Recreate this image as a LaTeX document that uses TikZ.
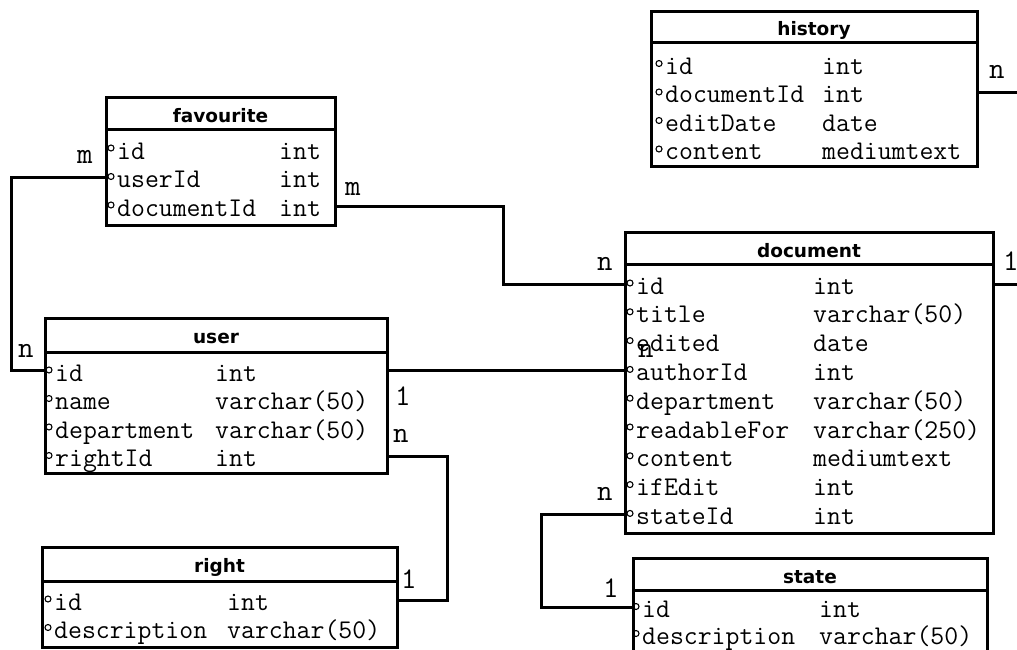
\documentclass[tikz,border=0pt]{standalone}
\usepackage{fontspec}
\newfontfamily\ttlfont{DejaVu Sans}
\tikzset{
  tbl/.style={draw, line width=3pt, inner sep=0pt, outer sep=0pt, anchor=north west},
  hline/.style={line width=3pt},
  ttl/.style={inner sep=0pt, anchor=base, font=\ttlfont\bfseries\fontsize{18.5}{20}\selectfont},
  fld/.style={inner sep=0pt, anchor=base west, text height=20pt, text depth=0pt, font=\ttfamily\fontsize{27}{30}\selectfont},
  lab/.style={inner sep=0pt, anchor=base west, font=\ttfamily\fontsize{30}{32}\selectfont},
  conn/.style={line width=3pt},
  fdot/.style={line width=1.1pt}
}
\newcommand\fldrow[6]{%
  \node[fld] (#1) at (#2,#4) {#5};
  \node[fld] (#1t) at (#3,#4) {#6};
  \draw[fdot] (#2-6,#4-11) circle[radius=3pt];
}
\begin{document}
\begin{tikzpicture}[x=1pt,y=-1pt]
\useasboundingbox[fill=white] (0,0) rectangle (1017,650);

% history
\node[tbl, minimum width=326pt, minimum height=154pt] (history) at (651,12) {};
\draw[hline] ([yshift=-30.5pt]history.north west) -- ([yshift=-30.5pt]history.north east);
\node[ttl] (historyttl) at (814,35.5) {history};
\fldrow{h1}{665}{822}{74.5}{id}{int}
\fldrow{h2}{665}{822}{103}{documentId}{int}
\fldrow{h3}{665}{822}{131.5}{editDate}{date}
\fldrow{h4}{665}{822}{160}{content}{mediumtext}

% favourite
\node[tbl, minimum width=229pt, minimum height=127pt] (favourite) at (106,98) {};
\draw[hline] ([yshift=-32pt]favourite.north west) -- ([yshift=-32pt]favourite.north east);
\node[ttl] (favttl) at (220.5,123) {favourite};
\fldrow{f1}{117}{279}{159}{id}{int}
\fldrow{f2}{117}{279}{187.5}{userId}{int}
\fldrow{f3}{117}{279}{216}{documentId}{int}

% document
\node[tbl, minimum width=368.5pt, minimum height=301pt] (document) at (625,232) {};
\draw[hline] ([yshift=-32pt]document.north west) -- ([yshift=-32pt]document.north east);
\node[ttl] (docttl) at (809,257) {document};
\fldrow{d1}{636}{813}{294}{id}{int}
\fldrow{d2}{636}{813}{322.8}{title}{varchar(50)}
\fldrow{d3}{636}{813}{351.6}{edited}{date}
\fldrow{d4}{636}{813}{380.4}{authorId}{int}
\fldrow{d5}{636}{813}{409.2}{department}{varchar(50)}
\fldrow{d6}{636}{813}{438}{readableFor}{varchar(250)}
\fldrow{d7}{636}{813}{466.8}{content}{mediumtext}
\fldrow{d8}{636}{813}{495.6}{ifEdit}{int}
\fldrow{d9}{636}{813}{524.4}{stateId}{int}

% user
\node[tbl, minimum width=342pt, minimum height=155pt] (user) at (45,318) {};
\draw[hline] ([yshift=-34pt]user.north west) -- ([yshift=-34pt]user.north east);
\node[ttl] (userttl) at (216,343) {user};
\fldrow{u1}{55}{215}{381}{id}{int}
\fldrow{u2}{55}{215}{409.5}{name}{varchar(50)}
\fldrow{u3}{55}{215}{438}{department}{varchar(50)}
\fldrow{u4}{55}{215}{466.5}{rightId}{int}

% right
\node[tbl, minimum width=355pt, minimum height=100pt] (right) at (42,547.5) {};
\draw[hline] ([yshift=-33.5pt]right.north west) -- ([yshift=-33.5pt]right.north east);
\node[ttl] (rightttl) at (219.5,572) {right};
\fldrow{r1}{54}{227}{610}{id}{int}
\fldrow{r2}{54}{227}{638.5}{description}{varchar(50)}

% state
\node[tbl, minimum width=354pt, minimum height=102pt] (state) at (633,558) {};
\draw[hline] ([yshift=-32pt]state.north west) -- ([yshift=-32pt]state.north east);
\node[ttl] (statettl) at (810,583) {state};
\fldrow{s1}{642}{819}{617.5}{id}{int}
\fldrow{s2}{642}{819}{644.5}{description}{varchar(50)}

% connectors
\draw[conn] (favourite.west |- f2) -- ++(-95,0) |- (user.west |- d4);
\draw[conn] (favourite.east |- f3) -- ++(168,0) |- (document.west |- d1);
\draw[conn] (user.east |- d4) -- (document.west |- d4);
\draw[conn] (user.east |- u4) -- ++(60,0) |- (right.east |- r1);
\draw[conn] (document.west |- d9) -- ++(-84,0) |- (state.west |- s1);
\draw[conn] (history.east |- h2) -- ++(60,0) |- (document.east |- d1);

% labels
\node[lab] (lh) at (989,79) {n};
\node[lab] (ld1) at (1003,270) {1};
\node[lab] (lfm1) at (77,164) {m};
\node[lab] (lfm2) at (345,195) {m};
\node[lab] (ldn1) at (597,270) {n};
\node[lab] (lun) at (18,357) {n};
\node[lab] (lu1) at (395,405) {1};
\node[lab] (lun2) at (393,442) {n};
\node[lab] (ldn2) at (638,357) {n};
\node[lab] (ldn3) at (597,500) {n};
\node[lab] (ls1) at (603,597) {1};
\node[lab] (lr1) at (401,588) {1};
\end{tikzpicture}
\end{document}
